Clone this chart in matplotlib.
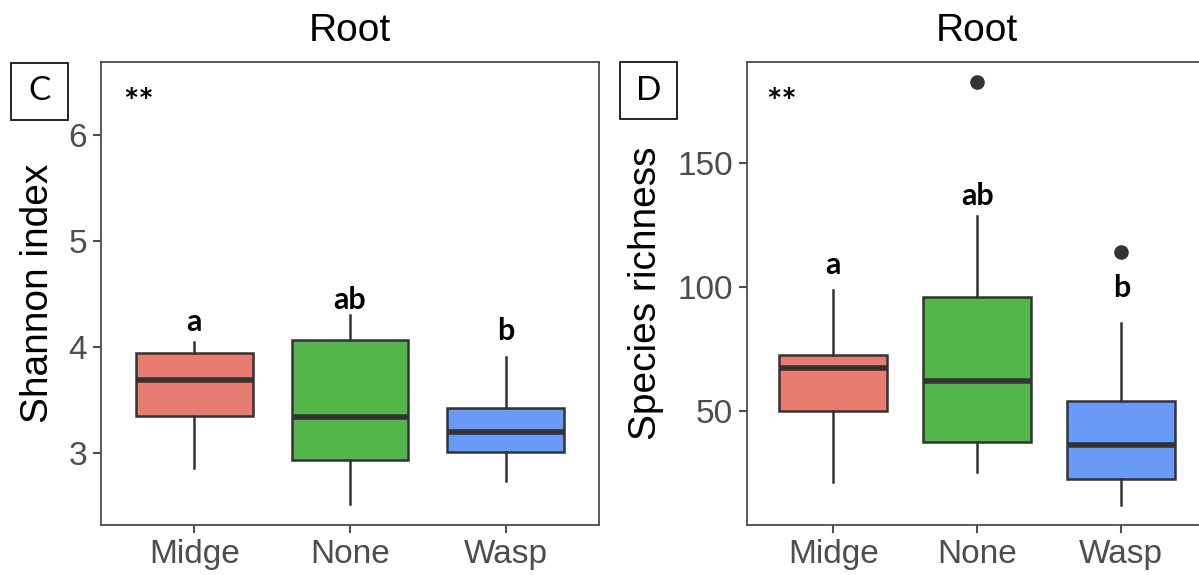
import numpy as np
import matplotlib.pyplot as plt
from matplotlib.patches import Rectangle

# Root samples by gall type
groups = ['Midge', 'None', 'Wasp']
fills = ['#E87C70', '#54B64A', '#6A9AF8']

# Shannon index box statistics
sh_low = [2.86, 2.52, 2.73]
sh_q1 = [3.35, 2.93, 3.01]
sh_med = [3.69, 3.34, 3.20]
sh_q3 = [3.94, 4.06, 3.42]
sh_high = [4.04, 4.30, 3.90]
sh_out = [[], [], []]
sh_letters = ['a', 'ab', 'b']
sh_letter_y = [4.23, 4.44, 4.15]

# Species richness box statistics
sr_low = [21, 25, 12]
sr_q1 = [50, 37.5, 22.4]
sr_med = [67, 62, 36]
sr_q3 = [72.5, 95.7, 54]
sr_high = [98.5, 128.4, 85.3]
sr_out = [[], [182.6], [113.9]]
sr_letters = ['a', 'ab', 'b']
sr_letter_y = [108.9, 136.8, 99.6]

W, H = 1199, 575
fig = plt.figure(figsize=(W / 100, H / 100), dpi=100)
plt.rcParams['font.family'] = ['Liberation Sans', 'DejaVu Sans']

edge = '#333333'


def panel(ax, low, q1, med, q3, high, out, letters, letter_y, ylabel,
          ylim, yticks, ylab_x):
    stats = []
    for i in range(3):
        stats.append(dict(whislo=low[i], q1=q1[i], med=med[i], q3=q3[i],
                          whishi=high[i], fliers=out[i]))
    bp = ax.bxp(stats, positions=[1, 2, 3], widths=0.75, patch_artist=True,
                showcaps=False,
                boxprops=dict(edgecolor=edge, linewidth=1.8),
                whiskerprops=dict(color=edge, linewidth=1.8),
                medianprops=dict(color=edge, linewidth=4),
                flierprops=dict(marker='o', markerfacecolor=edge,
                                markeredgecolor=edge, markersize=9.5))
    for patch, c in zip(bp['boxes'], fills):
        patch.set_facecolor(c)
    for i, (t, y) in enumerate(zip(letters, letter_y)):
        ax.text(i + 1, y, t, ha='center', va='center', fontsize=22,
                family='Lato', fontweight='bold', color='black')
    ax.text(0.075, 0.91, '**', transform=ax.transAxes, ha='center',
            va='center', fontsize=26, family='Lato', fontweight='bold')
    ax.set_xlim(0.4, 3.6)
    ax.set_ylim(*ylim)
    ax.set_xticks([1, 2, 3])
    ax.set_xticklabels(groups)
    ax.set_yticks(yticks)
    ax.tick_params(colors='#4D4D4D', labelsize=24, length=6, width=1.5,
                   pad=4)
    for s in ax.spines.values():
        s.set_color('#4D4D4D')
        s.set_linewidth(1.3)
    ax.set_ylabel(ylabel, fontsize=28, color='black')
    ax.yaxis.set_label_coords(ylab_x, 0.5)
    ax.set_title('Root', fontsize=28, pad=15)


ax1 = fig.add_axes([101 / W, 50 / H, 498 / W, 463 / H])
panel(ax1, sh_low, sh_q1, sh_med, sh_q3, sh_high, sh_out, sh_letters,
      sh_letter_y, 'Shannon index', (2.318, 6.686), [3, 4, 5, 6], -0.09)

ax2 = fig.add_axes([746.7 / W, 50 / H, 461 / W, 463 / H])
panel(ax2, sr_low, sr_q1, sr_med, sr_q3, sr_high, sr_out, sr_letters,
      sr_letter_y, 'Species richness', (3.8, 190.7), [50, 100, 150], -0.18)

# panel tags in boxes
for tag, x0, y0 in [('C', 11, 63), ('D', 620, 62)]:
    fig.add_artist(Rectangle((x0 / W, 1 - (y0 + 57) / H), 57 / W, 57 / H,
                             transform=fig.transFigure, fill=False,
                             edgecolor='black', linewidth=1.2))
    fig.text((x0 + 28.5) / W, 1 - (y0 + 28.5) / H, tag, ha='center',
             va='center', fontsize=24, family='Lato')

fig.savefig('out.png', dpi=100)
